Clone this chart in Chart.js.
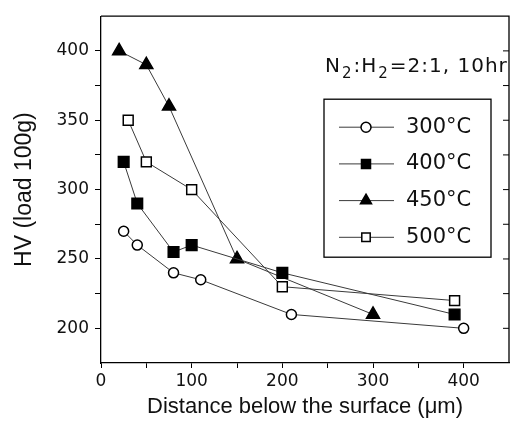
<!DOCTYPE html>
<html>
<head>
<meta charset="utf-8">
<title>HV vs distance</title>
<script src="https://cdn.jsdelivr.net/npm/chart.js@4.4.1/dist/chart.umd.min.js"></script>
<style>
  html, body { margin: 0; padding: 0; background: #fff; }
  #wrap { width: 518px; height: 425px; }
</style>
</head>
<body>
<div id="wrap"><canvas id="hvChart"></canvas></div>
<script>
// series (distance in um, hardness HV)
const seriesNames = ['300\u00B0C', '400\u00B0C', '450\u00B0C', '500\u00B0C'];
const dist300 = [25, 40, 80, 110, 210, 400];
const hv300   = [270, 260, 240, 235, 210, 200];
const dist400 = [25, 40, 80, 100, 200, 390];
const hv400   = [320, 290, 255, 260, 240, 210];
const dist450 = [20, 50, 75, 150, 300];
const hv450   = [400, 390, 360, 250, 210];
const dist500 = [30, 50, 100, 200, 390];
const hv500   = [350, 320, 300, 230, 220];

// axis ticks
const xTicks = [0, 50, 100, 150, 200, 250, 300, 350, 400];
const xTickLabels = [0, 100, 200, 300, 400];
const yTicks = [200, 225, 250, 275, 300, 325, 350, 375, 400];
const yTickLabels = [200, 250, 300, 350, 400];

const tickFont = { family: 'DejaVu Sans', size: 17 };
const titleFont = { family: 'Liberation Sans', size: 23 };

function toPoints(xs, ys) {
  return xs.map((x, i) => ({ x: x, y: ys[i] }));
}

const styles = [
  { pointStyle: 'circle',   radius: 5,   fill: '#fff' },
  { pointStyle: 'rect',     radius: 7.5, fill: '#000' },
  { pointStyle: 'triangle', radius: 7.5, fill: '#000' },
  { pointStyle: 'rect',     radius: 7,   fill: '#fff' }
];
const allX = [dist300, dist400, dist450, dist500];
const allY = [hv300, hv400, hv450, hv500];

const datasets = seriesNames.map((name, i) => ({
  label: name,
  data: toPoints(allX[i], allY[i]),
  borderColor: '#3a3a3a',
  borderWidth: 1,
  pointStyle: styles[i].pointStyle,
  pointRadius: styles[i].radius,
  pointBackgroundColor: styles[i].fill,
  pointBorderColor: '#000',
  pointBorderWidth: 1.5,
  tension: 0
}));

// frame on top/right + inward ticks on the right side
const framePlugin = {
  id: 'frame',
  afterDraw(chart) {
    const { ctx, chartArea: a } = chart;
    const ys = chart.scales.y;
    ctx.save();
    ctx.strokeStyle = '#000';
    ctx.lineWidth = 1.3;
    ctx.beginPath();
    ctx.moveTo(a.left, a.top);
    ctx.lineTo(a.right, a.top);
    ctx.lineTo(a.right, a.bottom);
    ctx.stroke();
    ctx.lineWidth = 1;
    yTicks.forEach(v => {
      const y = ys.getPixelForValue(v);
      ctx.beginPath();
      ctx.moveTo(a.right - 6, y);
      ctx.lineTo(a.right, y);
      ctx.stroke();
    });
    ctx.restore();
  }
};

// boxed legend and the gas note inside the plot
const legendPlugin = {
  id: 'boxLegend',
  afterDraw(chart) {
    const { ctx, chartArea: a } = chart;
    const bx = a.left + 223, by = a.top + 83, bw = 167, bh = 158;
    ctx.save();
    ctx.fillStyle = '#fff';
    ctx.fillRect(bx, by, bw, bh);
    ctx.strokeStyle = '#000';
    ctx.lineWidth = 1.3;
    ctx.strokeRect(bx, by, bw, bh);

    chart.data.datasets.forEach((ds, i) => {
      const y = by + 28 + i * 36.7;
      ctx.strokeStyle = '#3a3a3a';
      ctx.lineWidth = 1;
      ctx.beginPath();
      ctx.moveTo(bx + 15, y);
      ctx.lineTo(bx + 70, y);
      ctx.stroke();
      ctx.fillStyle = ds.pointBackgroundColor;
      ctx.strokeStyle = '#000';
      ctx.lineWidth = 1.5;
      Chart.helpers.drawPoint(ctx, {
        pointStyle: ds.pointStyle,
        radius: i === 0 ? 5 : ds.pointRadius * 0.85,
        rotation: 0,
        borderWidth: 1.5
      }, bx + 42, y);
      ctx.fillStyle = '#111';
      ctx.font = '21px "DejaVu Sans"';
      ctx.textBaseline = 'middle';
      ctx.textAlign = 'left';
      ctx.fillText(ds.label, bx + 82, y);
    });

    // N2:H2=2:1, 10hr
    let x = a.left + 224;
    const base = a.top + 56;
    const big = '20px "DejaVu Sans"';
    const small = '15px "DejaVu Sans"';
    const parts = [['N', big, 0], ['2', small, 6], [':H', big, 0], ['2', small, 6], ['=2:1, 10hr', big, 0]];
    ctx.fillStyle = '#111';
    ctx.textBaseline = 'alphabetic';
    ctx.letterSpacing = '1px';
    parts.forEach(p => {
      ctx.font = p[1];
      ctx.fillText(p[0], x, base + p[2]);
      x += ctx.measureText(p[0]).width + 1;
    });
    ctx.restore();
  }
};

new Chart(document.getElementById('hvChart'), {
  type: 'line',
  data: { datasets: datasets },
  options: {
    responsive: true,
    maintainAspectRatio: false,
    animation: false,
    devicePixelRatio: 1,
    layout: { padding: { top: 12, right: 6, left: 0, bottom: 0 } },
    plugins: {
      legend: { display: false },
      tooltip: { enabled: false }
    },
    scales: {
      x: {
        type: 'linear',
        min: 0,
        max: 450,
        afterBuildTicks: scale => { scale.ticks = xTicks.map(v => ({ value: v })); },
        afterFit: scale => { scale.height = 62; },
        ticks: {
          autoSkip: false,
          maxRotation: 0,
          padding: 3,
          color: '#111',
          font: tickFont,
          callback: v => xTickLabels.includes(v) ? String(v) : ''
        },
        grid: { drawOnChartArea: false, drawTicks: true, tickLength: 5, color: '#000' },
        border: { display: true, color: '#000', width: 1.3 },
        title: {
          display: true,
          text: 'Distance below the surface (\u03BCm)',
          color: '#111',
          font: { family: 'Liberation Sans', size: 22 },
          padding: { top: 0, bottom: 5 }
        }
      },
      y: {
        type: 'linear',
        min: 175,
        max: 425,
        afterBuildTicks: scale => { scale.ticks = yTicks.map(v => ({ value: v })); },
        afterFit: scale => { scale.width = 101; },
        ticks: {
          autoSkip: false,
          padding: 6,
          color: '#111',
          font: tickFont,
          callback: v => yTickLabels.includes(v) ? String(v) : ''
        },
        grid: { drawOnChartArea: false, drawTicks: true, tickLength: 6, color: '#000' },
        border: { display: true, color: '#000', width: 1.3 },
        title: {
          display: true,
          text: 'HV (load 100g)',
          color: '#111',
          font: titleFont,
          padding: { top: 11, bottom: 0 }
        }
      }
    }
  },
  plugins: [framePlugin, legendPlugin]
});
</script>
</body>
</html>
